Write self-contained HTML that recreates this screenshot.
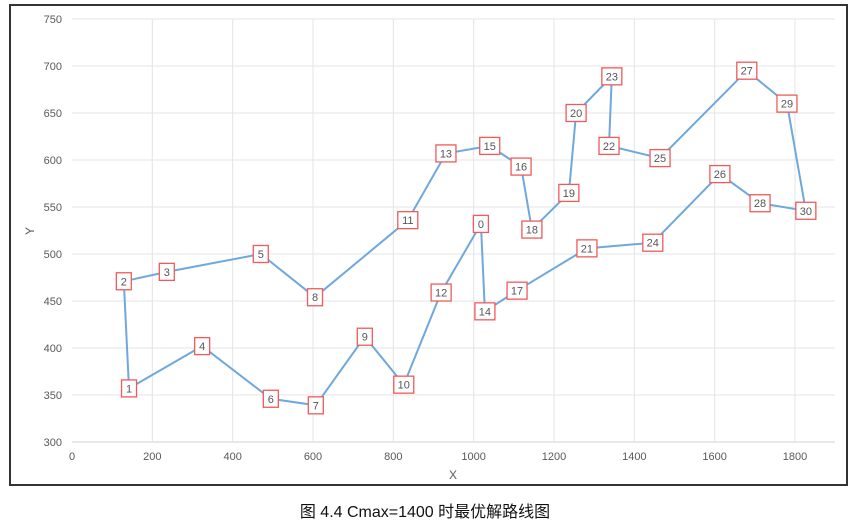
<!DOCTYPE html>
<html><head><meta charset="utf-8"><style>
body{margin:0;background:#fff;width:850px;height:523px;overflow:hidden}
svg text{font-family:"Liberation Sans","Noto Sans CJK SC",sans-serif}
</style></head><body>
<svg id="c" width="850" height="523">
<rect x="10" y="5" width="837" height="480" fill="#fff" stroke="#333" stroke-width="2"/>
<g id="grid"></g><g id="route"></g><g id="labels"></g>
<text x="453" y="479" font-size="12" fill="#595959" text-anchor="middle">X</text>
<text x="34" y="231" font-size="12" fill="#595959" text-anchor="middle" transform="rotate(-90 34 231)">Y</text>
<text x="425" y="517" font-size="16" fill="#111" text-anchor="middle">图 4.4 Cmax=1400 时最优解路线图</text>
</svg>
<script>
const nodeIds=[0,1,2,3,4,5,6,7,8,9,10,11,12,13,14,15,16,17,18,19,20,21,22,23,24,25,26,27,28,29,30];
const nodeX=[1018,142,129,236,324,470,495,607,605,729,826,836,919,931,1028,1040,1118,1108,1145,1237,1255,1282,1337,1344,1446,1464,1613,1680,1713,1780,1827];
const nodeY=[532,357,471,481,402,500,346,339,454,412,361,536,459,607,439,615,593,461,526,565,650,506,615,689,512,602,585,695,554,660,546];
const route=[0,14,17,21,24,26,28,30,29,27,25,22,23,20,19,18,16,15,13,11,8,5,3,2,1,4,6,7,9,10,12,0];
const xTicks=[0,200,400,600,800,1000,1200,1400,1600,1800];
const yTicks=[300,350,400,450,500,550,600,650,700,750];
const X0=72,X1=795,Y0=442,Y1=19;
const sx=v=>X0+(v-0)/1800*(X1-X0);
const sy=v=>Y0-(v-300)/450*(Y0-Y1);
const NS='http://www.w3.org/2000/svg';
function mk(t,a,p){const e=document.createElementNS(NS,t);for(const k in a)e.setAttribute(k,a[k]);p.appendChild(e);return e;}
const grid=document.getElementById('grid');
yTicks.forEach(v=>{
 const l=mk('line',{x1:X0,x2:835,y1:sy(v),y2:sy(v),stroke:v==300?'#d0d0d0':'#e4e4e4','stroke-width':1},grid);
 
 
 const t=mk('text',{x:X0-10,y:sy(v)+4,'font-size':11,fill:'#595959','text-anchor':'end'},grid);t.textContent=v;
 
 
});
xTicks.forEach(v=>{
 if(v>0){const l=mk('line',{x1:sy(0)*0+sx(v),x2:sx(v),y1:Y1,y2:Y0,stroke:'#e4e4e4','stroke-width':1},grid);
 
 }
 const t=mk('text',{x:sx(v),y:Y0+18,'font-size':11,fill:'#595959','text-anchor':'middle'},grid);t.textContent=v;
 
 
});
const pts=route.map(i=>sx(nodeX[i]).toFixed(1)+','+sy(nodeY[i]).toFixed(1)).join(' ');
const pl=mk('polyline',{points:pts,fill:'none',stroke:'#6fa8dc','stroke-width':2},document.getElementById('route'));


const lab=document.getElementById('labels');
nodeIds.forEach((id,i)=>{
 const g=mk('g',{},lab);
 
 
 const w=id>9?20:15,h=17,cx=sx(nodeX[i]),cy=sy(nodeY[i]);
 mk('rect',{x:cx-w/2,y:cy-h/2,width:w,height:h,fill:'#fff',stroke:'#f05a5a','stroke-width':1.3},g);
 const t=mk('text',{x:cx,y:cy+4,'font-size':11,fill:'#555','text-anchor':'middle'},g);t.textContent=id;
});
</script>
</body></html>
